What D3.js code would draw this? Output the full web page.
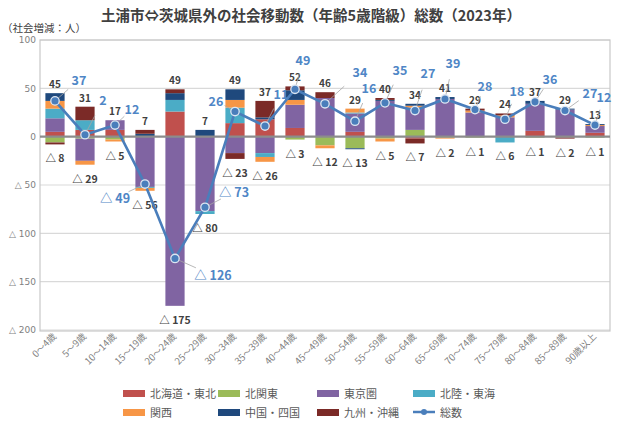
<!DOCTYPE html>
<html><head><meta charset="utf-8">
<script src="https://cdn.jsdelivr.net/npm/d3@7"></script>
<style>
body{margin:0;background:#fff;}
text{font-family:"Noto Sans CJK JP","Noto Sans",sans-serif;}
</style></head>
<body><svg id="c" width="617" height="426"></svg>
<script>
const categories = ["0～4歳","5～9歳","10～14歳","15～19歳","20～24歳","25～29歳","30～34歳","35～39歳","40～44歳","45～49歳","50～54歳","55～59歳","60～64歳","65～69歳","70～74歳","75～79歳","80～84歳","85～89歳","90歳以上"];
const seriesNames = ["北海道・東北","北関東","東京圏","北陸・東海","関西","中国・四国","九州・沖縄"];
const hokkaidoTohoku = [5,7,7,0,26,0,14,18,9,0,5,0,-2,0,0,0,6,-1,4];
const kitaKanto      = [-6,-2,-3,0,0,0,0,0,-3,-9,-12,-2,7,-1,-1,0,-1,0,-1];
const tokyoArea      = [14,-23,10,-52,-175,-77,-17,-17,24,40,19,37,23,39,25,20,28,28,7];
const hokurikuTokai  = [10,10,0,-1,12,-3,16,-4,0,0,1,0,0,0,0,-6,0,0,0];
const kansai         = [8,-4,-2,-3,0,0,8,-5,5,-3,4,-3,2,-1,2,2,0,0,1];
const chugokuShikoku = [8,0,0,3,7,7,11,2,10,0,-1,1,2,2,0,0,3,1,1];
const kyushuOkinawa  = [-2,14,0,4,4,0,-6,17,4,6,0,2,-5,0,2,2,0,-1,0];
const totals = [37,2,12,-49,-126,-73,26,11,49,34,16,35,27,39,28,18,36,27,12];
const yTicks = [100,50,0,-50,-100,-150,-200];
const lineName = "総数";

// layout (not data)
const colors = ["#C0504D","#9BBB59","#8064A2","#4BACC6","#F79646","#1F497D","#7B2A27"];
const blueLabelOffsets = [[24,-21],[18,-35],[17,-16],[-30,14],[38,17],[29,-15],[-19,-11],[16,-32],[8,-29],[35,-32],[14,-33],[15,-33],[13,-38],[8,-36],[10,-24],[12,-28],[15,-23],[25,-18],[9,-28]];

const seriesValues = [hokkaidoTohoku,kitaKanto,tokyoArea,hokurikuTokai,kansai,chugokuShikoku,kyushuOkinawa];
const rows = categories.map((c,i)=>{const o={cat:c};seriesNames.forEach((s,k)=>o[s]=seriesValues[k][i]);return o;});

const svg = d3.select("#c");
const L=40,R=610,T=40,B=331;
const x = d3.scaleBand().domain(categories).range([L,R]).paddingInner(0.36).paddingOuter(0.18);
const y = d3.scaleLinear().domain([-200,100]).range([B-1,T]);
const fmt = v => v<0 ? "△ "+Math.abs(v) : String(v);

// grid
svg.append("g").selectAll("line").data(yTicks.filter(v=>v!==0)).join("line")
  .attr("x1",L).attr("x2",R).attr("y1",d=>y(d)).attr("y2",d=>y(d))
  .attr("stroke","#d9d9d9").attr("stroke-width",1.2);
// frame
svg.append("rect").attr("x",L).attr("y",T).attr("width",R-L).attr("height",B-T)
  .attr("fill","none").attr("stroke","#c8c8c8").attr("stroke-width",1.2);

// y axis labels
const yAxis = d3.axisLeft(y).tickValues(yTicks).tickFormat(fmt).tickSize(0).tickPadding(4);
const ya = svg.append("g").attr("transform",`translate(${L},0)`).call(yAxis);
ya.select(".domain").remove();
ya.selectAll("text").attr("fill","#7f7f7f").attr("font-size",9).style("font-family","'DejaVu Sans',sans-serif");

// stacks
const stack = d3.stack().keys(seriesNames).offset(d3.stackOffsetDiverging);
const stacked = stack(rows);
svg.append("g").selectAll("g").data(stacked).join("g").attr("fill",(d,i)=>colors[i])
  .selectAll("rect").data(d=>d).join("rect")
  .attr("x",d=>x(d.data.cat)).attr("width",x.bandwidth())
  .attr("y",d=>y(Math.max(d[0],d[1]))).attr("height",d=>Math.abs(y(d[0])-y(d[1])));

// zero line
svg.append("line").attr("x1",L).attr("x2",R).attr("y1",y(0)).attr("y2",y(0)).attr("stroke","#8c8c8c").attr("stroke-width",2.2);

// x axis labels
const xAxis = d3.axisBottom(x).tickSize(0).tickPadding(0);
const xa = svg.append("g").attr("transform",`translate(0,${B+4})`).call(xAxis);
xa.select(".domain").remove();
xa.selectAll("text").attr("fill","#7f7f7f").attr("font-size",9.5)
  .attr("text-anchor","end").attr("dy","0.3em").attr("transform","rotate(-45)");

// positive / negative sum labels
const posSum = categories.map((c,i)=>d3.sum(seriesValues,s=>Math.max(0,s[i])));
const negSum = categories.map((c,i)=>d3.sum(seriesValues,s=>Math.min(0,s[i])));
const cx = i => x(categories[i])+x.bandwidth()/2;
svg.append("g").selectAll("text").data(posSum).join("text")
  .attr("x",(d,i)=>cx(i)).attr("y",d=>y(d)-5).attr("text-anchor","middle")
  .attr("font-size",10).attr("font-weight","bold").attr("fill","#404040").text(d=>fmt(d));
svg.append("g").selectAll("text").data(negSum).join("text")
  .attr("x",(d,i)=>cx(i)).attr("y",d=>y(d)+18).attr("text-anchor","middle")
  .attr("font-size",10.5).attr("font-weight","bold").attr("fill","#404040").text(d=>fmt(d));

// total line
const line = d3.line().x((d,i)=>cx(i)).y(d=>y(d));
svg.append("path").datum(totals).attr("d",line).attr("fill","none").attr("stroke","#4A7EBB").attr("stroke-width",2.6);
// leader lines
svg.append("g").selectAll("line").data(totals).join("line")
  .attr("x1",(d,i)=>cx(i)).attr("y1",d=>y(d))
  .attr("x2",(d,i)=>cx(i)+blueLabelOffsets[i][0]*0.55).attr("y2",(d,i)=>y(d)+blueLabelOffsets[i][1]*0.55)
  .attr("stroke","#a6a6a6").attr("stroke-width",0.8);
svg.append("g").selectAll("circle").data(totals).join("circle")
  .attr("cx",(d,i)=>cx(i)).attr("cy",d=>y(d)).attr("r",4.2)
  .attr("fill","#4A7EBB").attr("stroke","#dce6f2").attr("stroke-width",1.3);
svg.append("g").selectAll("text").data(totals).join("text")
  .attr("x",(d,i)=>cx(i)+blueLabelOffsets[i][0]).attr("y",(d,i)=>y(d)+blueLabelOffsets[i][1]+5)
  .attr("text-anchor","middle").attr("font-size",12.5).attr("font-weight","bold").attr("fill","#4F86C6").text(d=>fmt(d));

// title
svg.append("text").attr("x",311).attr("y",21).attr("text-anchor","middle").attr("font-size",14.5).attr("font-weight","bold").attr("fill","#404040")
  .text("土浦市⇔茨城県外の社会移動数（年齢5歳階級）総数（2023年）");
svg.append("text").attr("x",2).attr("y",32).attr("font-size",10.5).attr("fill","#404040").text("（社会増減：人）");

// legend
const legendPos = [[123,394],[218,394],[317,394],[413,394],[123,413],[218,413],[317,413]];
const lg = svg.append("g");
seriesNames.forEach((s,i)=>{
  const [lx,ly]=legendPos[i];
  lg.append("rect").attr("x",lx).attr("y",ly-4).attr("width",22).attr("height",7).attr("fill",colors[i]);
  lg.append("text").attr("x",lx+27).attr("y",ly+4).attr("font-size",11).attr("fill","#595959").text(s);
});
lg.append("line").attr("x1",413).attr("x2",435).attr("y1",412).attr("y2",412).attr("stroke","#4A7EBB").attr("stroke-width",2.5);
lg.append("circle").attr("cx",424).attr("cy",412).attr("r",3).attr("fill","#4A7EBB");
lg.append("text").attr("x",440).attr("y",417).attr("font-size",11).attr("fill","#595959").text(lineName);
</script></body></html>
